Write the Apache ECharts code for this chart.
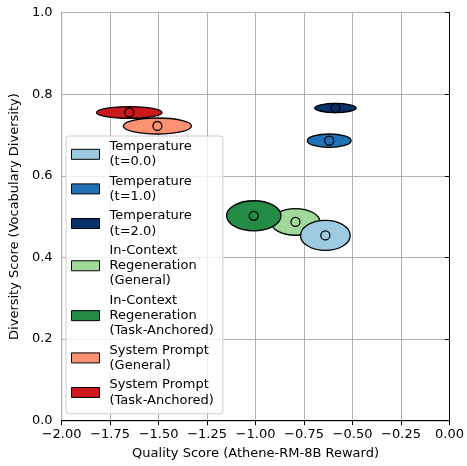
<!DOCTYPE html>
<html>
<head>
<meta charset="utf-8">
<script src="https://cdn.jsdelivr.net/npm/echarts@6/dist/echarts.min.js"></script>
<style>html,body{margin:0;padding:0;background:#fff;}#c{width:467px;height:466px;}</style>
</head>
<body>
<div id="c"></div>
<script>
// ---- data ----
const methodNames = [
  "Temperature\n(t=0.0)",
  "Temperature\n(t=1.0)",
  "Temperature\n(t=2.0)",
  "In-Context\nRegeneration\n(General)",
  "In-Context\nRegeneration\n(Task-Anchored)",
  "System Prompt\n(General)",
  "System Prompt\n(Task-Anchored)"
];
const qualityMean     = [-0.640, -0.620, -0.588, -0.794, -1.009, -1.506, -1.651];
const diversityMean   = [ 0.454,  0.686,  0.766,  0.487,  0.502,  0.722,  0.755];
const qualitySpread   = [ 0.128,  0.113,  0.107,  0.126,  0.140,  0.176,  0.169];
const diversitySpread = [ 0.0368, 0.0163, 0.0112, 0.0327, 0.0368, 0.0196, 0.0145];
const xTicks = [-2.0, -1.75, -1.5, -1.25, -1.0, -0.75, -0.5, -0.25, 0.0];
const yTicks = [0.0, 0.2, 0.4, 0.6, 0.8, 1.0];

// ---- styles ----
const colors = ["#9ecae1", "#2171b5", "#08306b", "#a1d99b", "#238b45", "#fc9272", "#cb181d"];
const drawOrder = [3, 4, 6, 5, 0, 1, 2];
const FONT = "DejaVu Sans";

const series = drawOrder.map(i => ({
  type: 'custom',
  name: methodNames[i],
  itemStyle: { color: colors[i], borderColor: '#000', borderWidth: 1 },
  data: [[qualityMean[i], diversityMean[i], qualitySpread[i], diversitySpread[i]]],
  renderItem: function (params, api) {
    const c = api.coord([api.value(0), api.value(1)]);
    const s = api.size([api.value(2), api.value(3)]);
    return {
      type: 'group',
      children: [
        { type: 'ellipse', shape: { cx: c[0], cy: c[1], rx: s[0], ry: s[1] },
          style: { fill: colors[i], stroke: '#000', lineWidth: 1.3 } },
        { type: 'circle', shape: { cx: c[0], cy: c[1], r: 4.5 },
          style: { fill: null, stroke: '#000', lineWidth: 1.3 } }
      ]
    };
  }
}));

const fmtX = v => (Math.abs(v) < 1e-9 ? "0.00" : v.toFixed(2).replace('-', '\u2212'));

const chart = echarts.init(document.getElementById('c'), null, { renderer: 'canvas' });
chart.setOption({
  backgroundColor: '#fff',
  animation: false,
  textStyle: { fontFamily: FONT },
  grid: { left: 58.5, right: 17.5, top: 12.5, bottom: 45.3, show: true,
          borderColor: '#000', borderWidth: 1, backgroundColor: 'transparent' },
  xAxis: {
    type: 'value', min: xTicks[0], max: xTicks[xTicks.length - 1], interval: 0.25,
    name: 'Quality Score (Athene-RM-8B Reward)', nameLocation: 'middle', nameGap: 26,
    nameTextStyle: { fontFamily: FONT, fontSize: 13, color: '#000' },
    axisLine: { show: true, lineStyle: { color: '#000', width: 1 } },
    axisTick: { show: true, inside: false, length: 4.5, lineStyle: { color: '#000', width: 1 } },
    axisLabel: { formatter: fmtX, fontFamily: FONT, fontSize: 13, color: '#000', margin: 7,
                 showMinLabel: true, showMaxLabel: true },
    splitLine: { show: true, lineStyle: { color: '#b0b0b0', width: 1 } }
  },
  yAxis: {
    type: 'value', min: yTicks[0], max: yTicks[yTicks.length - 1], interval: 0.2,
    name: 'Diversity Score (Vocabulary Diversity)', nameLocation: 'middle', nameGap: 35,
    nameTextStyle: { fontFamily: FONT, fontSize: 13, color: '#000' },
    axisLine: { show: true, lineStyle: { color: '#000', width: 1 } },
    axisTick: { show: true, inside: false, length: 4.5, lineStyle: { color: '#000', width: 1 } },
    axisLabel: { formatter: v => v.toFixed(1), fontFamily: FONT, fontSize: 13, color: '#000', margin: 9,
                 showMinLabel: true, showMaxLabel: true },
    splitLine: { show: true, lineStyle: { color: '#b0b0b0', width: 1 } }
  },
  legend: {
    data: methodNames,
    orient: 'vertical',
    left: 66, top: 136,
    padding: [3, 9, 6, 5],
    itemGap: 4,
    itemWidth: 28, itemHeight: 10,
    icon: 'rect',
    selectedMode: false,
    backgroundColor: 'rgba(255,255,255,0.8)',
    borderColor: '#cccccc', borderWidth: 1, borderRadius: 3,
    itemStyle: { borderColor: '#000', borderWidth: 1 },
    textStyle: { fontFamily: FONT, fontSize: 13, lineHeight: 15.3, color: '#000', padding: [0, 0, 0, 5] }
  },
  series: series
});
</script>
</body>
</html>
